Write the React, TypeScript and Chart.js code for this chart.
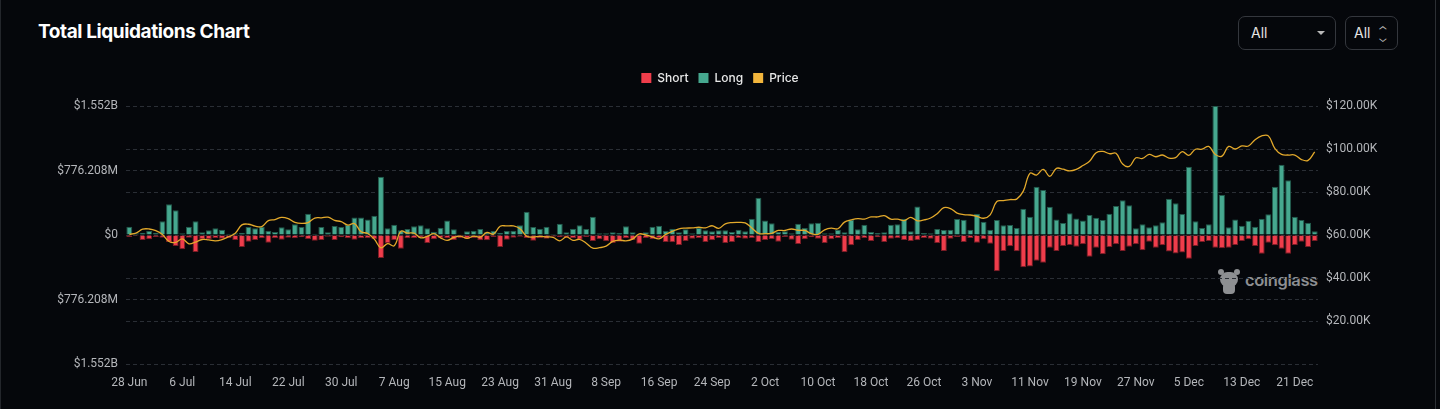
import React, { useEffect, useRef } from 'react';
import { Chart, registerables } from 'chart.js';

Chart.register(...registerables);

// ---- data ----
const MONTHS = ['Jan', 'Feb', 'Mar', 'Apr', 'May', 'Jun', 'Jul', 'Aug', 'Sep', 'Oct', 'Nov', 'Dec'];
const DAY_COUNT = 180; // 28 Jun 2024 .. 24 Dec 2024
const categories: string[] = Array.from({ length: DAY_COUNT }, (_, i) => {
  const d = new Date(Date.UTC(2024, 5, 28 + i));
  return `${d.getUTCDate()} ${MONTHS[d.getUTCMonth()]}`;
});

// Long liquidations, $M
const longValues: number[] = [
  100, 20, 28, 48, 28, 164, 369, 297, 20, 100,
  164, 32, 56, 80, 64, 16, 20, 28, 96, 80,
  100, 52, 36, 92, 68, 128, 96, 256, 16, 96,
  32, 108, 96, 120, 212, 212, 188, 232, 700, 80,
  124, 56, 72, 104, 116, 80, 40, 88, 176, 68,
  8, 44, 52, 72, 32, 48, 28, 48, 52, 116,
  280, 96, 76, 100, 12, 136, 32, 76, 116, 72,
  220, 20, 20, 32, 24, 104, 32, 12, 32, 100,
  112, 48, 76, 32, 68, 20, 88, 56, 44, 56,
  56, 36, 64, 44, 196, 448, 176, 140, 36, 44,
  20, 136, 84, 140, 148, 20, 20, 64, 32, 184,
  68, 124, 36, 24, 32, 124, 128, 196, 44, 344,
  24, 20, 72, 60, 64, 192, 184, 64, 256, 160,
  64, 180, 116, 120, 84, 317, 220, 581, 541, 341,
  188, 144, 261, 200, 176, 241, 208, 180, 257, 349,
  417, 357, 80, 128, 92, 116, 152, 437, 381, 253,
  822, 164, 84, 128, 1552.416, 481, 92, 188, 112, 172,
  100, 196, 249, 581, 846, 658, 220, 180, 148, 44,
];

// Short liquidations, $M (drawn below zero)
const shortValues: number[] = [
  -24, -12, -60, -52, -24, -32, -84, -132, -172, -32,
  -204, -52, -52, -36, -44, -40, -60, -144, -80, -60,
  -40, -92, -40, -56, -32, -40, -28, -48, -68, -60,
  -20, -60, -28, -40, -56, -40, -40, -52, -276, -100,
  -60, -164, -40, -36, -32, -96, -52, -40, -40, -60,
  -36, -44, -36, -64, -64, -24, -144, -56, -32, -20,
  -36, -68, -40, -44, -20, -28, -32, -40, -56, -24,
  -72, -52, -76, -96, -80, -40, -60, -104, -36, -48,
  -40, -84, -88, -120, -72, -44, -36, -84, -64, -36,
  -96, -84, -36, -44, -36, -84, -60, -48, -80, -24,
  -56, -108, -52, -28, -44, -96, -52, -36, -208, -124,
  -60, -36, -72, -28, -84, -44, -40, -60, -72, -64,
  -36, -44, -96, -192, -44, -24, -84, -36, -92, -52,
  -104, -435, -192, -136, -196, -389, -380, -309, -333, -152,
  -192, -132, -120, -140, -112, -261, -152, -233, -144, -112,
  -192, -140, -112, -184, -80, -152, -124, -200, -224, -212,
  -285, -132, -84, -72, -152, -160, -152, -120, -72, -52,
  -132, -225, -92, -124, -164, -225, -120, -80, -144, -72,
];

// BTC price, $K
const priceValues: number[] = [
  60.3, 60.9, 62.7, 62.8, 62.0, 60.2, 57.0, 56.6, 58.2, 55.9,
  56.7, 57.9, 57.7, 57.3, 57.9, 59.2, 60.8, 64.7, 65.0, 64.1,
  63.9, 66.7, 67.2, 68.2, 67.6, 65.9, 65.4, 65.8, 67.9, 68.0,
  68.3, 66.8, 66.2, 64.6, 65.3, 61.5, 60.7, 58.1, 54.0, 56.0,
  55.0, 61.7, 60.9, 60.9, 58.7, 59.4, 60.6, 58.7, 57.5, 58.9,
  59.5, 58.4, 59.5, 59.0, 61.2, 60.4, 64.1, 64.2, 64.2, 62.9,
  59.4, 59.0, 59.4, 59.1, 58.9, 57.3, 59.1, 57.5, 58.0, 56.2,
  53.9, 54.1, 54.8, 57.0, 57.6, 57.3, 58.1, 60.5, 60.0, 59.1,
  58.2, 60.3, 61.7, 62.9, 63.2, 63.3, 63.6, 63.3, 64.3, 63.1,
  65.2, 65.8, 65.9, 65.6, 63.3, 60.8, 60.6, 60.8, 62.1, 62.1,
  62.8, 62.2, 62.1, 60.6, 60.3, 62.4, 63.2, 62.9, 66.0, 67.0,
  67.6, 67.4, 68.4, 68.4, 69.0, 67.4, 67.4, 66.7, 68.2, 66.6,
  67.0, 67.9, 69.9, 72.7, 72.3, 70.2, 69.5, 69.3, 68.7, 67.8,
  69.4, 75.6, 76.0, 76.5, 76.7, 80.4, 88.7, 87.9, 90.5, 87.3,
  91.0, 90.6, 89.8, 90.5, 92.3, 94.3, 98.3, 98.9, 97.8, 98.0,
  93.0, 91.9, 95.9, 95.6, 97.5, 96.4, 97.2, 95.8, 96.0, 98.8,
  97.0, 99.9, 99.9, 101.2, 97.4, 96.7, 101.2, 100.0, 101.4, 101.4,
  104.3, 106.1, 106.1, 100.2, 97.5, 97.2, 97.2, 95.1, 94.7, 98.7,
];

const liqTicks: number[] = [-1552.416, -776.208, 0, 776.208, 1552.416];
const priceMin = 0;
const priceMax = 120;
const priceStep = 20;
const xLabelEvery = 8;

const BG = '#05070b';
const GRID = '#2a2e35';
const TICK = '#b4b6ba';

function fmtLiq(v: number): string {
  const a = Math.abs(v);
  if (a === 0) return '$0';
  if (a >= 1000) return `$${(a / 1000).toFixed(3)}B`;
  return `$${a.toFixed(3)}M`;
}

const legendGap = {
  id: 'legendGap',
  beforeInit(chart: any) {
    const origFit = chart.legend.fit;
    chart.legend.fit = function () {
      origFit.bind(chart.legend)();
      this.height += 12;
    };
  },
};

export default function App() {
  const ref = useRef<HTMLCanvasElement | null>(null);

  useEffect(() => {
    if (!ref.current) return;
    const chart = new Chart(ref.current, {
      data: {
        labels: categories,
        datasets: [
          {
            type: 'bar',
            label: 'Short',
            data: shortValues,
            backgroundColor: '#ef3d4b',
            borderColor: '#7a1c25',
            borderWidth: 1,
            barPercentage: 0.9,
            categoryPercentage: 1,
            stack: 'liq',
            yAxisID: 'y',
            order: 2,
          },
          {
            type: 'bar',
            label: 'Long',
            data: longValues,
            backgroundColor: '#46a88f',
            borderColor: '#22594b',
            borderWidth: 1,
            barPercentage: 0.9,
            categoryPercentage: 1,
            stack: 'liq',
            yAxisID: 'y',
            order: 2,
          },
          {
            type: 'line',
            label: 'Price',
            data: priceValues,
            borderColor: '#e3a92b',
            backgroundColor: '#f2b53c',
            borderWidth: 1.3,
            pointRadius: 0,
            tension: 0.4,
            yAxisID: 'y1',
            order: 0,
          },
        ],
      } as any,
      plugins: [legendGap],
      options: {
        animation: false,
        responsive: false,
        maintainAspectRatio: false,
        layout: { padding: { top: 62, left: 0, right: 0, bottom: 0 } },
        plugins: {
          legend: {
            display: true,
            position: 'top',
            labels: {
              color: '#e8e8e8',
              boxWidth: 10,
              boxHeight: 10,
              padding: 10,
              font: { family: 'Inter', size: 12, weight: 500 as any },
              sort: (a: any, b: any) => a.datasetIndex - b.datasetIndex,
              generateLabels: (c: any) =>
                (Chart.defaults.plugins.legend.labels as any)
                  .generateLabels(c)
                  .map((l: any) => ({ ...l, lineWidth: 0, strokeStyle: 'rgba(0,0,0,0)' })),
            },
          },
          tooltip: { enabled: false },
        },
        scales: {
          x: {
            stacked: true,
            offset: true,
            grid: { display: false },
            border: { display: false },
            ticks: {
              color: TICK,
              font: { family: 'Roboto', size: 12 },
              autoSkip: false,
              maxRotation: 0,
              padding: 4,
              callback: (_v: any, i: number) => (i % xLabelEvery === 0 ? categories[i] : ''),
            },
            afterFit: (s: any) => {
              s.height = 45;
            },
          },
          y: {
            stacked: true,
            position: 'left',
            min: liqTicks[0],
            max: liqTicks[liqTicks.length - 1],
            afterBuildTicks: (s: any) => {
              s.ticks = liqTicks.map((v) => ({ value: v }));
            },
            afterFit: (s: any) => {
              s.width = 126;
            },
            grid: { color: GRID, drawTicks: false, lineWidth: 1 },
            border: { display: false, dash: [4, 3] },
            ticks: {
              color: TICK,
              padding: 8,
              font: { family: 'Roboto', size: 12 },
              callback: (v: any) => fmtLiq(Number(v)),
            },
          },
          y1: {
            position: 'right',
            min: priceMin,
            max: priceMax,
            afterFit: (s: any) => {
              s.width = 122;
            },
            grid: { color: GRID, drawTicks: false, lineWidth: 1 },
            border: { display: false, dash: [4, 3] },
            ticks: {
              stepSize: priceStep,
              color: TICK,
              padding: 8,
              font: { family: 'Roboto', size: 12 },
              callback: (v: any) => (Number(v) === 0 ? '' : `$${Number(v).toFixed(2)}K`),
            },
          },
        },
      } as any,
    });
    return () => chart.destroy();
  }, []);

  const box: React.CSSProperties = {
    position: 'absolute',
    top: 16,
    height: 34,
    boxSizing: 'border-box',
    border: '1px solid #34373d',
    borderRadius: 7,
    color: '#e4e4e4',
    fontFamily: 'Inter, sans-serif',
    fontSize: 14,
    lineHeight: '32px',
  };

  return (
    <div
      style={{
        position: 'fixed',
        left: 0,
        top: 0,
        width: 1440,
        height: 409,
        background: BG,
        overflow: 'hidden',
      }}
    >
      <div style={{ position: 'absolute', left: 0, top: 0, width: 1, height: 409, background: '#23262b' }} />
      <div style={{ position: 'absolute', left: 1435, top: 0, width: 1, height: 409, background: '#2c2f34' }} />
      <div
        style={{
          position: 'absolute',
          left: 38,
          top: 20,
          color: '#ffffff',
          fontFamily: 'Inter, sans-serif',
          fontWeight: 700,
          fontSize: 19,
          letterSpacing: -0.4,
          whiteSpace: 'nowrap',
        }}
      >
        Total Liquidations Chart
      </div>
      <div style={{ ...box, left: 1238, width: 98 }}>
        <span style={{ position: 'absolute', left: 12 }}>All</span>
        <span
          style={{
            position: 'absolute',
            right: 10,
            top: 14,
            width: 0,
            height: 0,
            borderLeft: '4px solid transparent',
            borderRight: '4px solid transparent',
            borderTop: '4px solid #b8b8b8',
          }}
        />
      </div>
      <div style={{ ...box, left: 1345, width: 53 }}>
        <span style={{ position: 'absolute', left: 8 }}>All</span>
        <span
          style={{
            position: 'absolute',
            left: 33,
            top: 0,
            fontSize: 10,
            color: '#b8b8b8',
            lineHeight: '8px',
            paddingTop: 9,
            textAlign: 'center',
          }}
        >
          <span style={{ display: 'block', transform: 'scaleX(1.3)' }}>⌃</span>
          <span style={{ display: 'block', transform: 'scaleX(1.3)' }}>⌄</span>
        </span>
      </div>
      {/* watermark */}
      <div style={{ position: 'absolute', left: 1217, top: 269, width: 24, height: 26 }}>
        <div style={{ position: 'absolute', left: 3, top: 3, width: 18, height: 15, borderRadius: 8, background: '#8d8f92' }} />
        <div style={{ position: 'absolute', left: 6, top: 14, width: 12, height: 11, borderRadius: 4, background: '#8d8f92' }} />
        <div style={{ position: 'absolute', left: 1, top: 0, width: 6, height: 6, borderRadius: 3, background: '#8d8f92' }} />
        <div style={{ position: 'absolute', left: 17, top: 0, width: 6, height: 6, borderRadius: 3, background: '#8d8f92' }} />
      </div>
      <div
        style={{
          position: 'absolute',
          left: 1245,
          top: 270,
          color: '#8d8f92',
          fontFamily: 'Inter, sans-serif',
          fontWeight: 600,
          fontSize: 16.5,
          letterSpacing: -0.4,
        }}
      >
        coinglass
      </div>
      <canvas ref={ref} width={1440} height={409} style={{ position: 'absolute', left: 0, top: 0, width: 1440, height: 409 }} />
    </div>
  );
}
